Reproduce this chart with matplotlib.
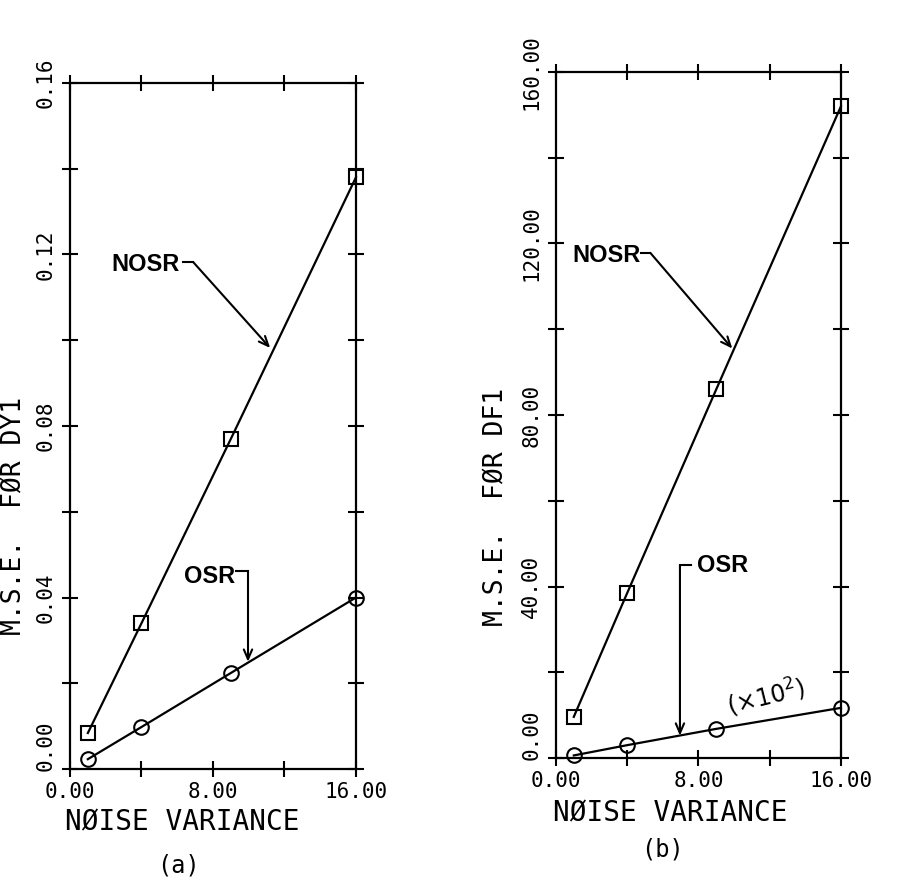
import matplotlib
matplotlib.use("Agg")
import matplotlib.pyplot as plt
from matplotlib.ticker import MultipleLocator, FormatStrFormatter, FuncFormatter

# noise variance levels (sigma = 1, 2, 3, 4)
noise_var = [1, 4, 9, 16]

# panel (a): mean squared error for DY1
nosr_dy1 = [0.0084, 0.034, 0.077, 0.138]
osr_dy1 = [0.0023, 0.0098, 0.0224, 0.040]

# panel (b): mean squared error for DF1 (OSR curve scaled by 10^2)
nosr_df1 = [9.6, 38.5, 86.0, 152.0]
osr_df1 = [0.6, 3.0, 6.8, 11.7]

MONO = "DejaVu Sans Mono"
ANNO = "Liberation Sans"


def setup_axes(ax, ymax, ymajor):
    ax.set_xlim(0, 16)
    ax.set_ylim(0, ymax)
    ax.xaxis.set_major_locator(MultipleLocator(8))
    ax.xaxis.set_minor_locator(MultipleLocator(4))
    ax.yaxis.set_major_locator(MultipleLocator(ymajor))
    ax.yaxis.set_minor_locator(MultipleLocator(ymajor / 2))
    ax.xaxis.set_major_formatter(FormatStrFormatter("%.2f"))
    # zero on the y axis is written separately, lifted off the corner
    ax.yaxis.set_major_formatter(FuncFormatter(lambda v, p: "" if v == 0 else "%.2f" % v))
    ax.tick_params(which="both", direction="inout", length=11, width=1.5,
                   top=True, right=True, labelsize=15)
    ax.tick_params(axis="x", which="both", pad=4)
    ax.tick_params(axis="y", which="both", pad=5)
    for lab in ax.get_xticklabels() + ax.get_yticklabels():
        lab.set_family(MONO)
    for lab in ax.get_yticklabels():
        lab.set_rotation(90)
        lab.set_va("center")
    ax.annotate("0.00", xy=(0, 0), xycoords="axes fraction", xytext=(-10.5, 17),
                textcoords="offset points", rotation=90, ha="right", va="center",
                family=MONO, fontsize=15)
    for sp in ax.spines.values():
        sp.set_linewidth(1.6)


def curve(ax, y, marker, ms):
    ax.plot(noise_var, y, color="black", lw=1.6, marker=marker, ms=ms,
            mfc="none", mec="black", mew=1.5, clip_on=False, zorder=3)


def pointer(ax, text, text_xy, path, ha="center"):
    # label, a short leader, then an arrow onto the curve
    ax.text(text_xy[0], text_xy[1], text, family=ANNO, fontweight="bold",
            fontsize=17, ha=ha, va="center")
    xs = [p[0] for p in path[:-1]]
    ys = [p[1] for p in path[:-1]]
    ax.plot(xs, ys, color="black", lw=1.5)
    ax.annotate("", xy=path[-1], xytext=path[-2],
                arrowprops=dict(arrowstyle="->,head_length=0.7,head_width=0.3",
                                color="black", lw=1.5, shrinkA=0, shrinkB=0))


fig = plt.figure(figsize=(9.03, 8.81), dpi=100)
ax1 = fig.add_axes([0.0775, 0.1271, 0.3167, 0.7787])
ax2 = fig.add_axes([0.6157, 0.1396, 0.3156, 0.7787])

# (a)
curve(ax1, nosr_dy1, "s", 10)
curve(ax1, osr_dy1, "o", 10.5)
setup_axes(ax1, 0.16, 0.04)
pointer(ax1, "NOSR", (4.25, 0.1176), [(6.3, 0.1182), (6.9, 0.1182), (11.2, 0.0982)])
pointer(ax1, "OSR", (7.8, 0.0448), [(9.3, 0.0462), (9.96, 0.0462), (9.96, 0.0250)])
ax1.set_xlabel("NØISE VARIANCE", family=MONO, fontsize=20)
ax1.xaxis.set_label_coords(0.392, -0.057)
ax1.set_ylabel("M.S.E.  FØR DY1", family=MONO, fontsize=19)
ax1.yaxis.set_label_coords(-0.150, 0.369)
ax1.text(0.379, -0.140, "(a)", transform=ax1.transAxes, family=MONO,
         fontsize=17, ha="center", va="center")

# (b)
curve(ax2, nosr_df1, "s", 10)
curve(ax2, osr_df1, "o", 10.5)
setup_axes(ax2, 160, 40)
pointer(ax2, "NOSR", (2.81, 117.3), [(4.8, 117.8), (5.3, 117.8), (9.9, 95.5)])
ax2.text(7.9, 45.0, "OSR", family=ANNO, fontweight="bold", fontsize=17,
         ha="left", va="center")
ax2.plot([7.6, 6.96], [45.0, 45.0], color="black", lw=1.5)
ax2.annotate("", xy=(6.96, 5.2), xytext=(6.96, 45.0),
             arrowprops=dict(arrowstyle="->,head_length=0.7,head_width=0.3",
                             color="black", lw=1.5, shrinkA=0, shrinkB=0))
ax2.text(11.8, 14.2, r"$(\times 10^2)$", fontsize=17, rotation=14,
         ha="center", va="center")
ax2.set_xlabel("NØISE VARIANCE", family=MONO, fontsize=20)
ax2.xaxis.set_label_coords(0.40, -0.061)
ax2.set_ylabel("M.S.E.  FØR DF1", family=MONO, fontsize=19)
ax2.yaxis.set_label_coords(-0.165, 0.366)
ax2.text(0.375, -0.134, "(b)", transform=ax2.transAxes, family=MONO,
         fontsize=17, ha="center", va="center")

fig.savefig("out.png", dpi=100, facecolor="white")
